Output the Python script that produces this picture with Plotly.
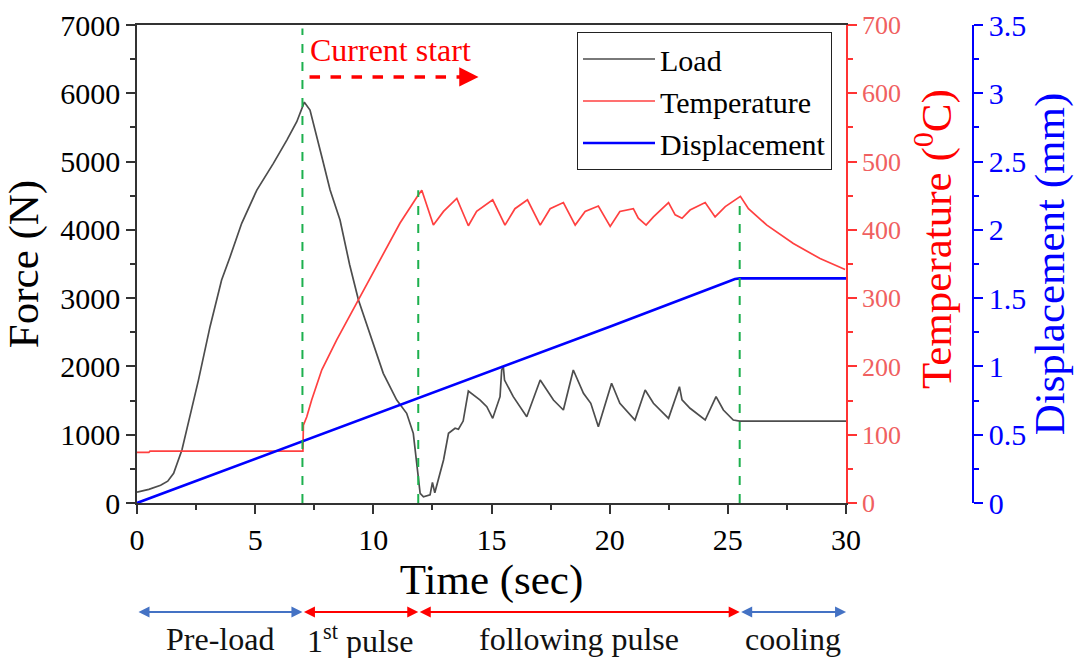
import plotly.graph_objects as go

# ---------------- data ----------------
load_t = [0, 0.5, 1.0, 1.3, 1.55, 1.9, 2.3, 2.6, 3.09, 3.58, 3.94, 4.43, 5.07, 5.77, 6.34, 6.76,
          7.08, 7.32, 7.82, 8.17, 8.59, 9.0, 9.37, 9.86, 10.42, 10.99, 11.41, 11.69, 11.83,
          11.98, 12.12, 12.4, 12.5, 12.6, 12.97, 13.18, 13.46, 13.6, 13.8, 14.02, 14.52, 14.8,
          15.05, 15.36, 15.43, 15.5, 15.55, 15.92, 16.49, 17.06, 17.62, 18.04, 18.46, 18.89,
          19.2, 19.52, 20.08, 20.43, 21.07, 21.5, 21.85, 22.49, 22.95, 23.06, 23.4, 24.04, 24.5,
          24.81, 25.23, 25.5, 30]
load_f = [160, 200, 260, 320, 434, 776, 1360, 1800, 2582, 3265, 3607, 4096, 4583, 4974, 5315, 5584,
          5870, 5755, 5071, 4583, 4144, 3485, 2973, 2485, 1899, 1508, 1313, 1020, 630,
          142, 92, 120, 300, 150, 630, 1020, 1094, 1080, 1200, 1640, 1508, 1410,
          1240, 1557, 1948, 1996, 1800, 1557, 1264, 1801, 1508, 1362, 1948, 1606,
          1460, 1117, 1753, 1460, 1215, 1655, 1460, 1240, 1703, 1510, 1387, 1215, 1557,
          1362, 1215, 1200, 1200]

temp_t = [0, 0.5, 0.55, 7.02, 7.04, 7.18, 7.39, 7.82, 8.45, 9.37, 10.0, 11.13, 11.9, 12.05, 12.54,
          12.97, 13.53, 14.02, 14.37, 15.05, 15.57, 15.99, 16.52, 17.06, 17.48, 18.04, 18.54,
          18.96, 19.52, 20.02, 20.43, 21.0, 21.21, 21.54, 21.85, 22.49, 22.77, 23.06, 23.4,
          24.04, 24.46, 24.89, 25.53, 25.87, 26.65, 27.77, 28.9, 29.96]
temp_c = [74, 74, 76, 76, 114, 126, 151, 195, 239, 297, 337, 410, 451, 458, 407,
          427, 446, 406, 427, 444, 407, 431, 444, 407, 431, 440, 407,
          427, 435, 405, 427, 431, 417, 407, 419, 440, 422, 417, 429,
          440, 419, 434, 449, 431, 407, 380, 358, 342]

disp_t = [0, 7, 11.9, 20, 25, 25.3, 25.5, 30]
disp_mm = [0, 0.45, 0.767, 1.29, 1.62, 1.64, 1.645, 1.645]

# phase boundaries (s)
phase_edges = [0, 7, 11.9, 25.5, 30]
phase_names = ["Pre-load", "1<sup>st</sup> pulse", "following pulse", "cooling"]
phase_colors = ["#4472C4", "#FF0000", "#FF0000", "#4472C4"]

# marker lines: (time, top force value)
marker_lines = [(7.0, 6950), (11.9, 4580), (25.5, 4480)]

FONT = "Liberation Serif"
GREEN = "#1DB04E"
AXC = "#333333"

fig = go.Figure()
fig.add_trace(go.Scatter(x=load_t, y=load_f, name="Load", mode="lines",
                         line=dict(color="#4D4D4D", width=1.7)))
fig.add_trace(go.Scatter(x=temp_t, y=temp_c, name="Temperature", mode="lines", yaxis="y2",
                         line=dict(color="#FF4040", width=1.7)))
fig.add_trace(go.Scatter(x=disp_t, y=disp_mm, name="Displacement", mode="lines", yaxis="y3",
                         line=dict(color="#0000FF", width=2.6)))

shapes = []
for t, top in marker_lines:
    shapes.append(dict(type="line", xref="x", yref="y", x0=t, x1=t, y0=0, y1=top,
                       line=dict(color=GREEN, width=2, dash="dash"), layer="above"))
# dashed "current start" arrow shaft
shapes.append(dict(type="line", xref="x", yref="y", x0=7.3, x1=13.85, y0=6240, y1=6240,
                   line=dict(color="#FF0000", width=3.5, dash="dash")))

annotations = [
    dict(x=7.25, y=6640, xref="x", yref="y", text="Current start", showarrow=False,
         xanchor="left", yanchor="middle", font=dict(family=FONT, size=32, color="#FF0000")),
    dict(x=14.45, y=6240, xref="x", yref="y", ax=13.95, ay=6240, axref="x", ayref="y",
         text="", showarrow=True, arrowhead=2, arrowsize=1.1, arrowwidth=3.5,
         arrowcolor="#FF0000"),
    dict(x=0.8441, y=0.5523, xref="paper", yref="paper", text="Temperature (<sup>0</sup>C)",
         showarrow=False, textangle=-90, xanchor="center", yanchor="middle",
         font=dict(family=FONT, size=43, color="#FF0000")),
]
for i, name in enumerate(phase_names):
    a, b = phase_edges[i], phase_edges[i + 1]
    annotations.append(dict(x=b, y=-0.228, xref="x", yref="paper", ax=a, ay=0,
                            axref="x", ayref="pixel", text="", showarrow=True,
                            arrowside="end+start", arrowhead=2, startarrowhead=2,
                            arrowsize=1, startarrowsize=1, arrowwidth=2.2,
                            arrowcolor=phase_colors[i]))
    annotations.append(dict(x=(a + b) / 2, y=-0.285, xref="x", yref="paper", text=name,
                            showarrow=False, xanchor="center", yanchor="middle",
                            font=dict(family=FONT, size=32, color="#111111")))

XD = 0.7519
fig.update_layout(
    width=1080, height=658,
    margin=dict(l=137, r=0, t=25, b=155),
    paper_bgcolor="white", plot_bgcolor="white",
    font=dict(family=FONT, size=30, color="black"),
    showlegend=True,
    legend=dict(x=0.4666, y=0.9854, xanchor="left", yanchor="top",
                bordercolor="#222222", borderwidth=1, bgcolor="white",
                font=dict(family=FONT, size=30, color="black"),
                tracegroupgap=0, itemwidth=72),
    xaxis=dict(domain=[0, XD], range=[0, 30], dtick=5, showgrid=False, zeroline=False,
               automargin=False,
               showline=True, linecolor=AXC, linewidth=1.5, mirror=True,
               ticks="outside", ticklen=9, tickwidth=1.5, tickcolor=AXC,
               minor=dict(dtick=2.5, ticks="outside", ticklen=5, tickcolor=AXC, tickwidth=1.5),
               tickfont=dict(family=FONT, size=30, color="black"),
               title=dict(text="Time (sec)", font=dict(family=FONT, size=43, color="black"), standoff=6)),
    yaxis=dict(range=[0, 7000], dtick=1000, showgrid=False, zeroline=False, automargin=False,
               showline=True, linecolor=AXC, linewidth=1.5,
               ticks="outside", ticklen=9, tickwidth=1.5, tickcolor=AXC,
               minor=dict(dtick=500, ticks="outside", ticklen=5, tickcolor=AXC, tickwidth=1.5),
               tickfont=dict(family=FONT, size=30, color="black"),
               title=dict(text="Force (N)", font=dict(family=FONT, size=43, color="black"), standoff=8)),
    yaxis2=dict(range=[0, 700], dtick=100, overlaying="y", side="right", anchor="x",
                automargin=False,
                showgrid=False, zeroline=False, showline=True, linecolor="#FF3333", linewidth=1.5,
                ticks="outside", ticklen=9, tickwidth=1.5, tickcolor="#FF3333",
                minor=dict(dtick=50, ticks="outside", ticklen=5, tickcolor="#FF3333", tickwidth=1.5),
                tickfont=dict(family=FONT, size=26, color="#F06060")),
    yaxis3=dict(range=[0, 3.5], dtick=0.5, overlaying="y", side="right", anchor="free",
                automargin=False,
                position=0.8865, showgrid=False, zeroline=False, showline=True,
                linecolor="#0000FF", linewidth=1.5,
                ticks="outside", ticklen=9, tickwidth=1.5, tickcolor="#0000FF",
                minor=dict(dtick=0.25, ticks="outside", ticklen=5, tickcolor="#0000FF", tickwidth=1.5),
                tickfont=dict(family=FONT, size=30, color="#0000FF"),
                title=dict(text="Displacement (mm)", font=dict(family=FONT, size=43, color="#0000FF"), standoff=2)),
    shapes=shapes,
    annotations=annotations,
)

fig.write_html("out.html")
